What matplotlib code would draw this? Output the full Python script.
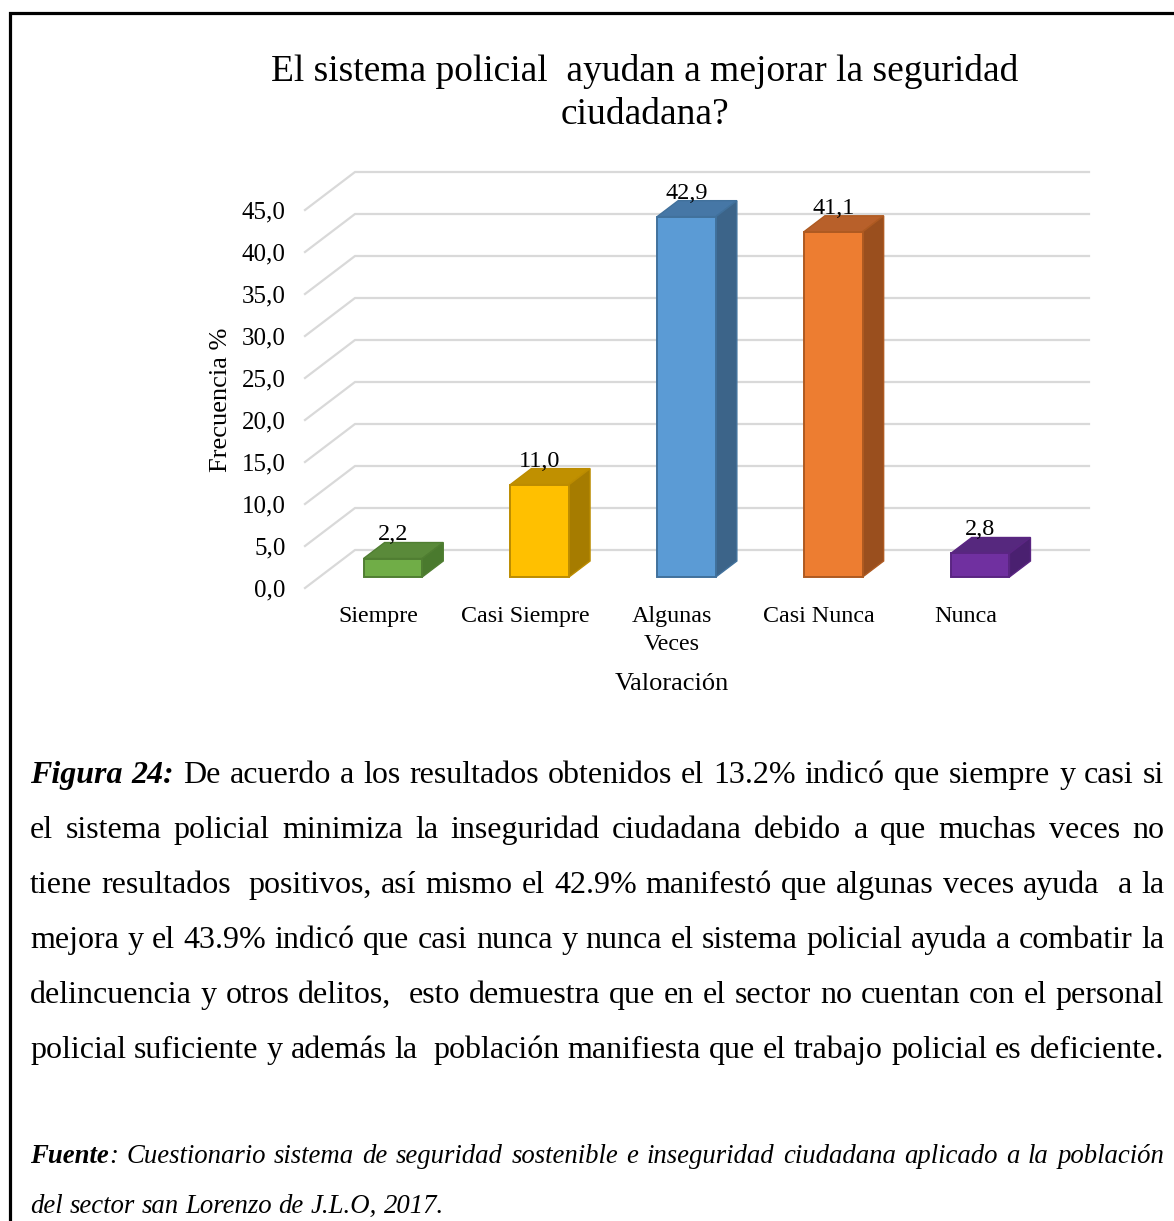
import matplotlib
matplotlib.use("Agg")
import matplotlib.pyplot as plt
from matplotlib.patches import Polygon, Rectangle
import numpy as np

W, H = 1174, 1221

categorias = ["Siempre", "Casi Siempre", "Algunas\nVeces", "Casi Nunca", "Nunca"]
frecuencia = [2.2, 11.0, 42.9, 41.1, 2.8]
etiquetas = ["2,2", "11,0", "42,9", "41,1", "2,8"]
y_ticks = [0, 5, 10, 15, 20, 25, 30, 35, 40, 45]
y_labels = ["0,0", "5,0", "10,0", "15,0", "20,0", "25,0", "30,0", "35,0", "40,0", "45,0"]

c_frente = ["#70AD47", "#FFC000", "#5B9BD5", "#ED7D31", "#7030A0"]
c_tapa = ["#5A8A3A", "#C09000", "#4677A6", "#B8602A", "#56287E"]
c_lado = ["#4A7A2E", "#A67C00", "#3C6489", "#9A4F1E", "#4A2070"]
c_borde = ["#507E32", "#BC8C00", "#41719C", "#AE5A21", "#5A2582"]

titulo = "El sistema policial  ayudan a mejorar la seguridad\nciudadana?"
eje_x = "Valoración"
eje_y = "Frecuencia %"

# ** marca negrita cursiva
texto_figura = [
    "**Figura** **24:** De acuerdo a los resultados obtenidos el 13.2% indicó que siempre y casi si",
    "el sistema policial minimiza la inseguridad ciudadana debido a que muchas veces no",
    "tiene resultados  positivos, así mismo el 42.9% manifestó que algunas veces ayuda  a la",
    "mejora y el 43.9% indicó que casi nunca y nunca el sistema policial ayuda a combatir la",
    "delincuencia y otros delitos,  esto demuestra que en el sector no cuentan con el personal",
    "policial suficiente y además la  población manifiesta que el trabajo policial es deficiente.",
]
texto_fuente = [
    "**Fuente**: Cuestionario sistema de seguridad sostenible e inseguridad ciudadana aplicado a la población",
    "del sector san Lorenzo de J.L.O, 2017.",
]

plt.rcParams['font.family'] = ['Liberation Serif', 'DejaVu Serif']

fig = plt.figure(figsize=(W / 100, H / 100), dpi=100)
fig.patch.set_facecolor("white")

# marco
fig.patches.append(Rectangle((10 / W, 1 - 1240 / H), 1200 / W, 1227 / H, transform=fig.transFigure,
                             fill=False, edgecolor="black", lw=2.3, zorder=0))

# grafico 3D falso
ax = fig.add_axes([305 / W, 1 - 588 / H, 784 / W, 416 / H])
DX, DY = 50 / 146.8, 38 / 8.4
d0, d1 = 0.29, 0.71
ancho = 0.40
ax.set_xlim(-0.5, 4.5 + DX)
ax.set_ylim(0, 45 + DY)
for s in ax.spines.values():
    s.set_visible(False)
ax.patch.set_alpha(0)
ax.tick_params(length=0)
ax.set_yticks(y_ticks, y_labels, fontsize=18)
ax.tick_params(axis='y', pad=14)
ax.set_xticks(range(len(categorias)), categorias, fontsize=17.3, linespacing=1.45)
ax.tick_params(axis='x', pad=13)

for v in y_ticks:
    ax.plot([-0.5, -0.5 + DX, 4.5 + DX], [v, v + DY, v + DY], color="#D9D9D9", lw=1.6,
            zorder=1, clip_on=False, solid_joinstyle='miter')

x = np.arange(len(frecuencia))
for i, v in enumerate(frecuencia):
    xl = x[i] - ancho / 2 + d0 * DX
    xr = x[i] + ancho / 2 + d0 * DX
    tapa = [(xl, v + d0 * DY), (xr, v + d0 * DY), (xr + (d1 - d0) * DX, v + d1 * DY), (xl + (d1 - d0) * DX, v + d1 * DY)]
    lado = [(xr, d0 * DY), (xr + (d1 - d0) * DX, d1 * DY), (xr + (d1 - d0) * DX, v + d1 * DY), (xr, v + d0 * DY)]
    ax.add_patch(Polygon(tapa, closed=True, facecolor=c_tapa[i], edgecolor=c_borde[i], lw=1.0, zorder=2))
    ax.add_patch(Polygon(lado, closed=True, facecolor=c_lado[i], edgecolor=c_borde[i], lw=1.0, zorder=2))
    ax.text(x[i] + d0 * DX, v + d1 * DY + 0.25, etiquetas[i], ha='center', va='baseline',
            fontsize=17.5, zorder=5)

ax.bar(x + d0 * DX, frecuencia, width=ancho, bottom=d0 * DY, color=c_frente,
       edgecolor=c_borde, lw=1.4, zorder=3)

ax.set_xlabel(eje_x, fontsize=19, va='center')
ax.xaxis.set_label_coords((672 - 305) / 784, (588 - 684) / 416)
ax.set_ylabel(eje_y, fontsize=19, va='center')
ax.yaxis.set_label_coords((221 - 305) / 784, (588 - 400) / 416)

fig.text(645 / W, 1 - 93 / H, titulo, ha='center', va='center', fontsize=27, linespacing=1.32)

# texto justificado
rend = fig.canvas.get_renderer()


def ancho_txt(t):
    return t.get_window_extent(rend).width


def linea(y, cadena, size, cursiva, justificar=True, x0=30, x1=1164):
    grupos = []
    total = 0
    for pal in cadena.split(" "):
        partes = []
        negrita = False
        for seg in pal.split("**"):
            if seg:
                t = fig.text(0, 1 - y / H, seg, fontsize=size, va='baseline',
                             fontweight='bold' if negrita else 'normal',
                             fontstyle='italic' if (cursiva or negrita) else 'normal')
                partes.append((t, ancho_txt(t)))
            negrita = not negrita
        grupos.append(partes)
        total += sum(w for _, w in partes)
    if justificar:
        hueco = (x1 - x0 - total) / (len(grupos) - 1)
    else:
        a = fig.text(0, 0, "a a", fontsize=size, fontstyle='italic' if cursiva else 'normal')
        b = fig.text(0, 0, "aa", fontsize=size, fontstyle='italic' if cursiva else 'normal')
        hueco = ancho_txt(a) - ancho_txt(b)
        a.remove()
        b.remove()
    xp = x0
    for partes in grupos:
        for t, w in partes:
            t.set_x(xp / W)
            xp += w
        xp += hueco


for l, yb in zip(texto_figura, [783, 838, 893, 948, 1003, 1058]):
    linea(yb, l, 23, False)

linea(1163, texto_fuente[0], 19.3, True)
linea(1213, texto_fuente[1], 19.3, True, justificar=False)

fig.savefig("out.png", dpi=100, facecolor="white")
